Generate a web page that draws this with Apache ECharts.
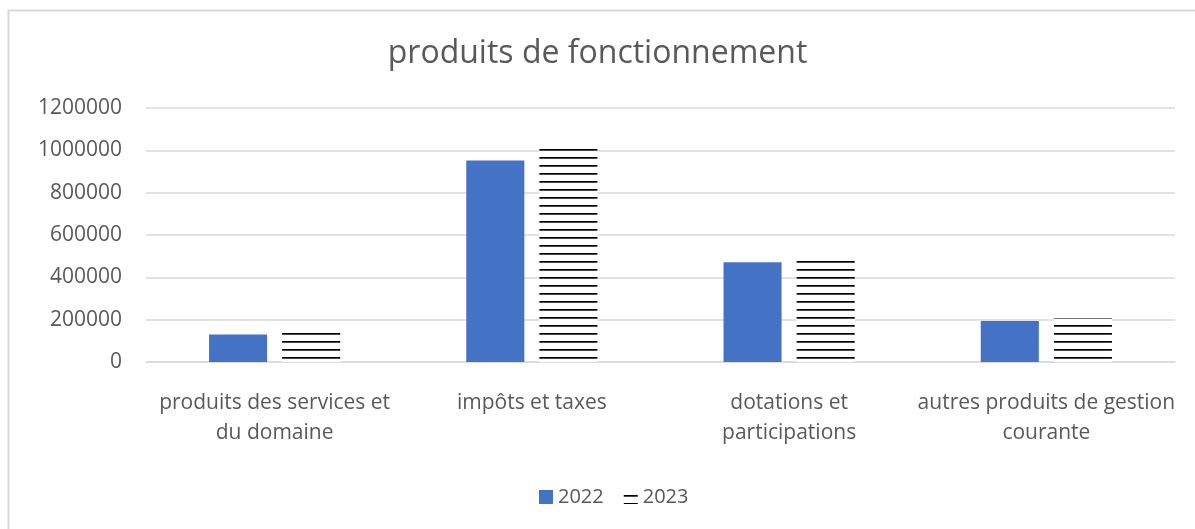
<!DOCTYPE html>
<html>
<head>
	<meta charset="utf-8">
	<title>produits de fonctionnement</title>
	<style>
		html, body { margin: 0; padding: 0; background: #fff; }
		#chart { width: 1195px; height: 529px; }
	</style>
</head>
<body>
	<div id="chart"></div>
<script src="https://cdn.jsdelivr.net/npm/echarts@6/dist/echarts.min.js"></script>
<script>
	// catégories (retours à la ligne comme dans Excel)
	var categories = [
		'produits des services et\ndu domaine',
		'impôts et taxes',
		'dotations et\nparticipations',
		'autres produits de gestion\ncourante'
	];
	var seriesNames = ['2022', '2023'];
	var values2022 = [130000, 952000, 471000, 194000];
	var values2023 = [138000, 1006000, 493000, 207000];
	var yTicks = [0, 200000, 400000, 600000, 800000, 1000000, 1200000];

	// motif hachuré horizontal pour 2023
	function hatch() {
		var c = document.createElement('canvas');
		c.width = 4;
		c.height = 8;
		var ctx = c.getContext('2d');
		ctx.fillStyle = '#fff';
		ctx.fillRect(0, 0, 4, 8);
		ctx.fillStyle = '#000';
		ctx.fillRect(0, 5, 4, 1);
		ctx.fillStyle = '#4a4a4a';
		ctx.fillRect(0, 6, 4, 1);
		return c;
	}

	var font = '"Open Sans", "Noto Sans", sans-serif';
	var chart = echarts.init(document.getElementById('chart'));
	chart.setOption({
		animation: false,
		title: {
			text: 'produits de fonctionnement',
			left: 'center',
			top: 33,
			textStyle: { fontFamily: font, fontSize: 32, fontWeight: 'normal', color: '#595959' }
		},
		graphic: [{
			type: 'rect',
			shape: { x: 8.5, y: 10.5, width: 1300, height: 700 },
			style: { fill: null, stroke: '#d9d9d9', lineWidth: 2 },
			silent: true
		}],
		legend: {
			data: seriesNames,
			bottom: 17,
			left: 534,
			icon: 'rect',
			itemWidth: 14,
			itemHeight: 14,
			itemGap: 20,
			textStyle: { fontFamily: font, fontSize: 20, color: '#595959' }
		},
		grid: { left: 146, right: 20, top: 108, bottom: 167 },
		xAxis: {
			type: 'category',
			data: categories,
			axisLine: { lineStyle: { color: '#d9d9d9', width: 1.5 } },
			axisTick: { show: false },
			axisLabel: {
				fontFamily: font, fontSize: 21, color: '#595959',
				lineHeight: 30, margin: 26, interval: 0
			}
		},
		yAxis: {
			type: 'value',
			min: yTicks[0],
			max: yTicks[yTicks.length - 1],
			interval: 200000,
			axisLine: { show: false },
			axisTick: { show: false },
			splitLine: { lineStyle: { color: '#d9d9d9', width: 1.5 } },
			axisLabel: {
				fontFamily: font, fontSize: 21, color: '#595959', margin: 24,
				formatter: function (v) { return String(v); }
			}
		},
		series: [{
			name: seriesNames[0],
			type: 'bar',
			data: values2022,
			barGap: '26%',
			barCategoryGap: '49%',
			itemStyle: { color: '#4472c4' }
		}, {
			name: seriesNames[1],
			type: 'bar',
			data: values2023,
			itemStyle: { color: { image: hatch(), repeat: 'repeat' } }
		}]
	});
</script>
</body>
</html>
